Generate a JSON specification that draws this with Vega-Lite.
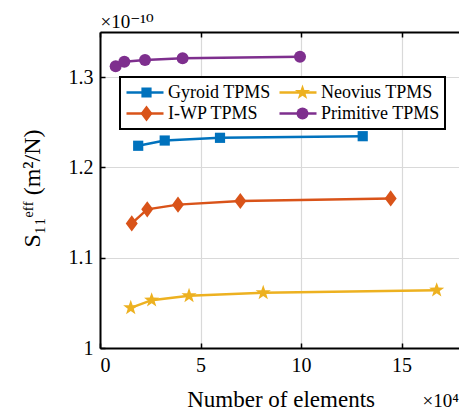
{
  "$schema": "https://vega.github.io/schema/vega-lite/v6.json",
  "width": 359,
  "height": 316,
  "autosize": {"type": "none"},
  "padding": {"left": 100, "top": 32, "right": 0, "bottom": 66},
  "config": {
    "font": "Liberation Serif, Times New Roman, serif",
    "view": {"stroke": null},
    "legend": {"strokeWidth": 2},
    "axis": {
      "domainColor": "black",
      "domainWidth": 2,
      "tickColor": "black",
      "tickWidth": 1.5,
      "tickSize": -5,
      "gridColor": "#d9d9d9",
      "gridWidth": 1.2,
      "labelFont": "Liberation Serif, Times New Roman, serif",
      "labelFontSize": 20,
      "labelColor": "black",
      "titleFont": "Liberation Serif, DejaVu Serif, serif",
      "titleFontWeight": "normal",
      "titleColor": "black"
    }
  },
  "data": {
    "values": [
      {"series": "Gyroid TPMS", "x": 1.9, "y": 1.224},
      {"series": "Gyroid TPMS", "x": 3.22, "y": 1.2298},
      {"series": "Gyroid TPMS", "x": 5.97, "y": 1.2328},
      {"series": "Gyroid TPMS", "x": 13.07, "y": 1.2346},
      {"series": "I-WP TPMS", "x": 1.58, "y": 1.138},
      {"series": "I-WP TPMS", "x": 2.35, "y": 1.1536},
      {"series": "I-WP TPMS", "x": 3.88, "y": 1.1588},
      {"series": "I-WP TPMS", "x": 6.98, "y": 1.1628},
      {"series": "I-WP TPMS", "x": 14.46, "y": 1.1657},
      {"series": "Neovius TPMS", "x": 1.53, "y": 1.0445},
      {"series": "Neovius TPMS", "x": 2.57, "y": 1.053},
      {"series": "Neovius TPMS", "x": 4.43, "y": 1.0578},
      {"series": "Neovius TPMS", "x": 8.12, "y": 1.0611},
      {"series": "Neovius TPMS", "x": 16.75, "y": 1.0641},
      {"series": "Primitive TPMS", "x": 0.78, "y": 1.312},
      {"series": "Primitive TPMS", "x": 1.21, "y": 1.317},
      {"series": "Primitive TPMS", "x": 2.24, "y": 1.319},
      {"series": "Primitive TPMS", "x": 4.11, "y": 1.321},
      {"series": "Primitive TPMS", "x": 9.95, "y": 1.3227}
    ]
  },
  "layer": [
    {
      "mark": {"type": "line", "strokeWidth": 2.5},
      "encoding": {
        "x": {
          "field": "x", "type": "quantitative",
          "scale": {"domain": [0, 17.86], "nice": false, "zero": false},
          "axis": {
            "orient": "bottom", "values": [0, 5, 10, 15], "grid": true,
            "format": "~g",
            "labelPadding": 12,
            "title": "Number of elements",
            "titleFontSize": 23,
            "titleX": 86.7, "titleY": 58.5, "titleAlign": "left", "titleBaseline": "alphabetic"
          }
        },
        "y": {
          "field": "y", "type": "quantitative",
          "scale": {"domain": [1, 1.35], "nice": false, "zero": false},
          "axis": {
            "orient": "left", "values": [1, 1.1, 1.2, 1.3], "grid": true,
            "format": "~g",
            "labelPadding": 12,
            "title": "S₁₁ᵉᶠᶠ (m²/N)",
            "titleFontSize": 24,
            "titleAngle": 270,
            "titleX": -61, "titleY": 156, "titleAlign": "center", "titleBaseline": "alphabetic"
          }
        },
        "stroke": {
          "field": "series", "type": "nominal",
          "scale": {
            "domain": ["Gyroid TPMS", "I-WP TPMS", "Neovius TPMS", "Primitive TPMS"],
            "range": ["#0072BD", "#D95319", "#EDB120", "#7E2F8E"]
          },
          "legend": {
            "title": null,
            "orient": "none",
            "legendX": 20,
            "legendY": 45,
            "zindex": 0,
            "columns": 2,
            "values": ["Gyroid TPMS", "I-WP TPMS", "Neovius TPMS", "Primitive TPMS"],
            "labelFont": "Liberation Serif, Times New Roman, serif",
            "labelFontSize": 18,
            "labelColor": "black",
            "labelLimit": 0,
            "symbolType": "stroke",
            "symbolSize": 1369,
            "symbolStrokeWidth": 2.5,
            "clipHeight": 21,
            "labelOffset": 3,
            "columnPadding": 7,
            "rowPadding": 0,
            "padding": 5,
            "strokeColor": "black",
            "fillColor": "white"
          }
        }
      }
    },
    {
      "mark": {"type": "point", "filled": true, "size": 144, "opacity": 1},
      "encoding": {
        "x": {"field": "x", "type": "quantitative", "scale": {"domain": [0, 17.86], "nice": false, "zero": false}, "axis": null},
        "y": {"field": "y", "type": "quantitative", "scale": {"domain": [1, 1.35], "nice": false, "zero": false}, "axis": null},
        "color": {
          "field": "series", "type": "nominal",
          "scale": {
            "domain": ["Gyroid TPMS", "Neovius TPMS", "I-WP TPMS", "Primitive TPMS"],
            "range": ["#0072BD", "#EDB120", "#D95319", "#7E2F8E"]
          },
          "legend": {
            "title": null,
            "orient": "none",
            "legendX": 20,
            "legendY": 45,
            "zindex": 2,
            "columns": 2,
            "values": ["Gyroid TPMS", "I-WP TPMS", "Neovius TPMS", "Primitive TPMS"],
            "labelFont": "Liberation Serif, Times New Roman, serif",
            "labelFontSize": 18,
            "labelOpacity": 0,
            "labelLimit": 0,
            "symbolSize": 144,
            "symbolOffset": 12.5,
            "clipHeight": 21,
            "labelOffset": 15.5,
            "columnPadding": 7,
            "rowPadding": 0,
            "padding": 5,
            "strokeColor": null,
            "fillColor": null
          }
        },
        "shape": {
          "field": "series", "type": "nominal",
          "scale": {
            "domain": ["Gyroid TPMS", "Neovius TPMS", "I-WP TPMS", "Primitive TPMS"],
            "range": [
              "M-0.85,-0.85H0.85V0.85H-0.85Z",
              "M0,-1.33L0.313,-0.431L1.265,-0.411L0.505,0.165L0.782,1.076L0,0.532L-0.782,1.076L-0.505,0.165L-1.265,-0.411L-0.313,-0.431Z",
              "M0,-1.35L1,0L0,1.35L-1,0Z",
              "circle"
            ]
          }
        }
      }
    },
    {
      "mark": {"type": "point", "opacity": 0},
      "encoding": {
        "x": {
          "field": "x", "type": "quantitative",
          "scale": {"domain": [0, 17.86], "nice": false, "zero": false},
          "axis": {
            "orient": "top", "values": [0, 5, 10, 15], "grid": false, "labels": false,
            "title": "×10⁻¹⁰",
            "titleFontSize": 19,
            "titleX": 0, "titleY": -5, "titleAlign": "left", "titleBaseline": "alphabetic"
          }
        },
        "y": {
          "field": "y", "type": "quantitative",
          "scale": {"domain": [1, 1.35], "nice": false, "zero": false},
          "axis": {
            "orient": "right", "values": [1, 1.1, 1.2, 1.3], "grid": false, "labels": false,
            "domain": false, "ticks": false,
            "title": "×10⁴",
            "titleFontSize": 19,
            "titleAngle": 0,
            "titleX": -37, "titleY": 374.5, "titleAlign": "left", "titleBaseline": "alphabetic"
          }
        }
      }
    }
  ],
  "resolve": {"axis": {"x": "independent", "y": "independent"}}
}
